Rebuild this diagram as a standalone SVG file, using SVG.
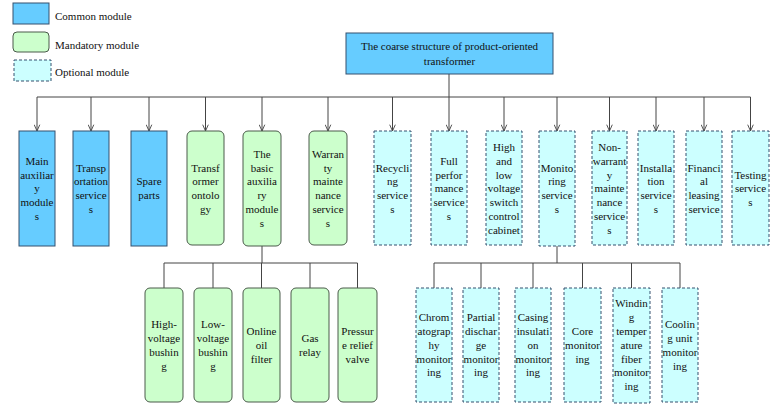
<svg xmlns="http://www.w3.org/2000/svg" width="773" height="415" viewBox="0 0 773 415" font-family="'Liberation Serif', 'DejaVu Serif', serif">
<style>
text{font-family:'Liberation Serif','DejaVu Serif',serif;font-size:11px;fill:#111;text-anchor:middle}
.lg{text-anchor:start}
.com{fill:#66CCFF;stroke:#34506e;stroke-width:1}
.man{fill:#CCFFCC;stroke:#4a5a4a;stroke-width:1}
.opt{fill:#CCFFFF;stroke:#34506e;stroke-width:1;stroke-dasharray:3,2}
.ln{fill:none;stroke:#444;stroke-width:1}
</style>
<defs>
<marker id="arr" viewBox="0 0 10 10" refX="10" refY="5" markerWidth="7" markerHeight="7" markerUnits="userSpaceOnUse" orient="auto">
<path d="M1,1 L10,5 L1,9" fill="none" stroke="#444" stroke-width="1.3"/>
</marker>
</defs>
<rect width="773" height="415" fill="#fff"/>
<g id="legend">
<rect class="com" x="13" y="3" width="36" height="21"/>
<text class="lg" x="55" y="20">Common module</text>
<rect class="man" x="13" y="32" width="36" height="20" rx="4"/>
<text class="lg" x="55" y="49">Mandatory module</text>
<rect class="opt" x="14" y="60" width="37" height="21"/>
<text class="lg" x="55" y="76">Optional module</text>
</g>
<g id="connectors">
<path class="ln" d="M449,74 V97 M37,97 H750.5 M262,246 V263 M164,263 H357.5 M557,246 V263 M434,263 H680"/>
<g marker-end="url(#arr)">
<path class="ln" d="M37,97 V131"/>
<path class="ln" d="M91,97 V131"/>
<path class="ln" d="M149,97 V131"/>
<path class="ln" d="M205.5,97 V131"/>
<path class="ln" d="M262,97 V131"/>
<path class="ln" d="M328,97 V131"/>
<path class="ln" d="M392.5,97 V131"/>
<path class="ln" d="M449,97 V131"/>
<path class="ln" d="M504,97 V131"/>
<path class="ln" d="M557,97 V131"/>
<path class="ln" d="M609.5,97 V131"/>
<path class="ln" d="M656,97 V131"/>
<path class="ln" d="M704,97 V131"/>
<path class="ln" d="M750.5,97 V131"/>
</g>
<path class="ln" d="M164,263 V288 M213,263 V288 M261.5,263 V288 M310,263 V288 M357.5,263 V288"/>
<path class="ln" d="M434,263 V288 M481,263 V288 M533,263 V288 M582.5,263 V288 M631.5,263 V288 M680,263 V288"/>
</g>
<g id="root">
<rect class="com" x="346" y="33" width="207" height="41"/>
<text x="449.5" y="50">The coarse structure of product-oriented</text>
<text x="449.5" y="65">transformer</text>
</g>
<g id="main-aux">
<rect class="com" x="19" y="131" width="36" height="115"/>
<text><tspan x="37" y="164.7">Main</tspan><tspan x="37" y="178.5">auxiliar</tspan><tspan x="37" y="192.3">y</tspan><tspan x="37" y="206.1">module</tspan><tspan x="37" y="219.9">s</tspan></text>
</g>
<g id="transport">
<rect class="com" x="73" y="131" width="36" height="115"/>
<text><tspan x="91" y="171.6">Transp</tspan><tspan x="91" y="185.4">ortation</tspan><tspan x="91" y="199.2">service</tspan><tspan x="91" y="213">s</tspan></text>
</g>
<g id="spare">
<rect class="com" x="131" y="131" width="36" height="115"/>
<text><tspan x="149" y="185.4">Spare</tspan><tspan x="149" y="199.2">parts</tspan></text>
</g>
<g id="ontology">
<rect class="man" x="187" y="131" width="37" height="114" rx="5"/>
<text><tspan x="205.5" y="171.6">Transf</tspan><tspan x="205.5" y="185.4">ormer</tspan><tspan x="205.5" y="199.2">ontolo</tspan><tspan x="205.5" y="213">gy</tspan></text>
</g>
<g id="basic-aux">
<rect class="man" x="243" y="131" width="38" height="115" rx="5"/>
<text><tspan x="262" y="157.8">The</tspan><tspan x="262" y="171.6">basic</tspan><tspan x="262" y="185.4">auxilia</tspan><tspan x="262" y="199.2">ry</tspan><tspan x="262" y="213">module</tspan><tspan x="262" y="226.8">s</tspan></text>
</g>
<g id="warranty">
<rect class="man" x="309" y="131" width="38" height="114" rx="5"/>
<text><tspan x="328" y="157.8">Warran</tspan><tspan x="328" y="171.6">ty</tspan><tspan x="328" y="185.4">mainte</tspan><tspan x="328" y="199.2">nance</tspan><tspan x="328" y="213">service</tspan><tspan x="328" y="226.8">s</tspan></text>
</g>
<g id="recycling">
<rect class="opt" x="374" y="131" width="37" height="114"/>
<text><tspan x="392.5" y="171.6">Recycli</tspan><tspan x="392.5" y="185.4">ng</tspan><tspan x="392.5" y="199.2">service</tspan><tspan x="392.5" y="213">s</tspan></text>
</g>
<g id="full-perf">
<rect class="opt" x="431" y="131" width="36" height="114"/>
<text><tspan x="449" y="164.7">Full</tspan><tspan x="449" y="178.5">perfor</tspan><tspan x="449" y="192.3">mance</tspan><tspan x="449" y="206.1">service</tspan><tspan x="449" y="219.9">s</tspan></text>
</g>
<g id="switch-cabinet">
<rect class="opt" x="486" y="131" width="36" height="114"/>
<text><tspan x="504" y="150.9">High</tspan><tspan x="504" y="164.7">and</tspan><tspan x="504" y="178.5">low</tspan><tspan x="504" y="192.3">voltage</tspan><tspan x="504" y="206.1">switch</tspan><tspan x="504" y="219.9">control</tspan><tspan x="504" y="233.7">cabinet</tspan></text>
</g>
<g id="monitoring">
<rect class="opt" x="539" y="131" width="36" height="115"/>
<text><tspan x="557" y="171.6">Monito</tspan><tspan x="557" y="185.4">ring</tspan><tspan x="557" y="199.2">service</tspan><tspan x="557" y="213">s</tspan></text>
</g>
<g id="non-warranty">
<rect class="opt" x="592" y="131" width="35" height="114"/>
<text><tspan x="609.5" y="150.9">Non-</tspan><tspan x="609.5" y="164.7">warrant</tspan><tspan x="609.5" y="178.5">y</tspan><tspan x="609.5" y="192.3">mainte</tspan><tspan x="609.5" y="206.1">nance</tspan><tspan x="609.5" y="219.9">service</tspan><tspan x="609.5" y="233.7">s</tspan></text>
</g>
<g id="installation">
<rect class="opt" x="638" y="131" width="36" height="114"/>
<text><tspan x="656" y="171.6">Installa</tspan><tspan x="656" y="185.4">tion</tspan><tspan x="656" y="199.2">service</tspan><tspan x="656" y="213">s</tspan></text>
</g>
<g id="financial">
<rect class="opt" x="686" y="131" width="36" height="114"/>
<text><tspan x="704" y="171.6">Financi</tspan><tspan x="704" y="185.4">al</tspan><tspan x="704" y="199.2">leasing</tspan><tspan x="704" y="213">service</tspan></text>
</g>
<g id="testing">
<rect class="opt" x="732" y="131" width="37" height="114"/>
<text><tspan x="750.5" y="178.5">Testing</tspan><tspan x="750.5" y="192.3">service</tspan><tspan x="750.5" y="206.1">s</tspan></text>
</g>
<g id="hv-bushing">
<rect class="man" x="145" y="288" width="38" height="114" rx="5"/>
<text><tspan x="164" y="328.1">High-</tspan><tspan x="164" y="341.9">voltage</tspan><tspan x="164" y="355.7">bushin</tspan><tspan x="164" y="369.5">g</tspan></text>
</g>
<g id="lv-bushing">
<rect class="man" x="194" y="288" width="38" height="114" rx="5"/>
<text><tspan x="213" y="328.1">Low-</tspan><tspan x="213" y="341.9">voltage</tspan><tspan x="213" y="355.7">bushin</tspan><tspan x="213" y="369.5">g</tspan></text>
</g>
<g id="oil-filter">
<rect class="man" x="243" y="288" width="37" height="114" rx="5"/>
<text><tspan x="261.5" y="335">Online</tspan><tspan x="261.5" y="348.8">oil</tspan><tspan x="261.5" y="362.6">filter</tspan></text>
</g>
<g id="gas-relay">
<rect class="man" x="291" y="288" width="38" height="114" rx="5"/>
<text><tspan x="310" y="341.9">Gas</tspan><tspan x="310" y="355.7">relay</tspan></text>
</g>
<g id="relief-valve">
<rect class="man" x="338" y="288" width="39" height="114" rx="5"/>
<text><tspan x="357.5" y="335">Pressur</tspan><tspan x="357.5" y="348.8">e relief</tspan><tspan x="357.5" y="362.6">valve</tspan></text>
</g>
<g id="chromatography">
<rect class="opt" x="416" y="288" width="36" height="114"/>
<text><tspan x="434" y="321.2">Chrom</tspan><tspan x="434" y="335">atograp</tspan><tspan x="434" y="348.8">hy</tspan><tspan x="434" y="362.6">monitor</tspan><tspan x="434" y="376.4">ing</tspan></text>
</g>
<g id="partial-discharge">
<rect class="opt" x="463" y="288" width="36" height="114"/>
<text><tspan x="481" y="321.2">Partial</tspan><tspan x="481" y="335">dischar</tspan><tspan x="481" y="348.8">ge</tspan><tspan x="481" y="362.6">monitor</tspan><tspan x="481" y="376.4">ing</tspan></text>
</g>
<g id="casing-insulation">
<rect class="opt" x="515" y="288" width="36" height="114"/>
<text><tspan x="533" y="321.2">Casing</tspan><tspan x="533" y="335">insulati</tspan><tspan x="533" y="348.8">on</tspan><tspan x="533" y="362.6">monitor</tspan><tspan x="533" y="376.4">ing</tspan></text>
</g>
<g id="core">
<rect class="opt" x="564" y="288" width="37" height="114"/>
<text><tspan x="582.5" y="335">Core</tspan><tspan x="582.5" y="348.8">monitor</tspan><tspan x="582.5" y="362.6">ing</tspan></text>
</g>
<g id="winding">
<rect class="opt" x="613" y="288" width="37" height="115"/>
<text><tspan x="631.5" y="307.4">Windin</tspan><tspan x="631.5" y="321.2">g</tspan><tspan x="631.5" y="335">temper</tspan><tspan x="631.5" y="348.8">ature</tspan><tspan x="631.5" y="362.6">fiber</tspan><tspan x="631.5" y="376.4">monitor</tspan><tspan x="631.5" y="390.2">ing</tspan></text>
</g>
<g id="cooling">
<rect class="opt" x="662" y="288" width="36" height="114"/>
<text><tspan x="680" y="328.1">Coolin</tspan><tspan x="680" y="341.9">g unit</tspan><tspan x="680" y="355.7">monitor</tspan><tspan x="680" y="369.5">ing</tspan></text>
</g>
</svg>
